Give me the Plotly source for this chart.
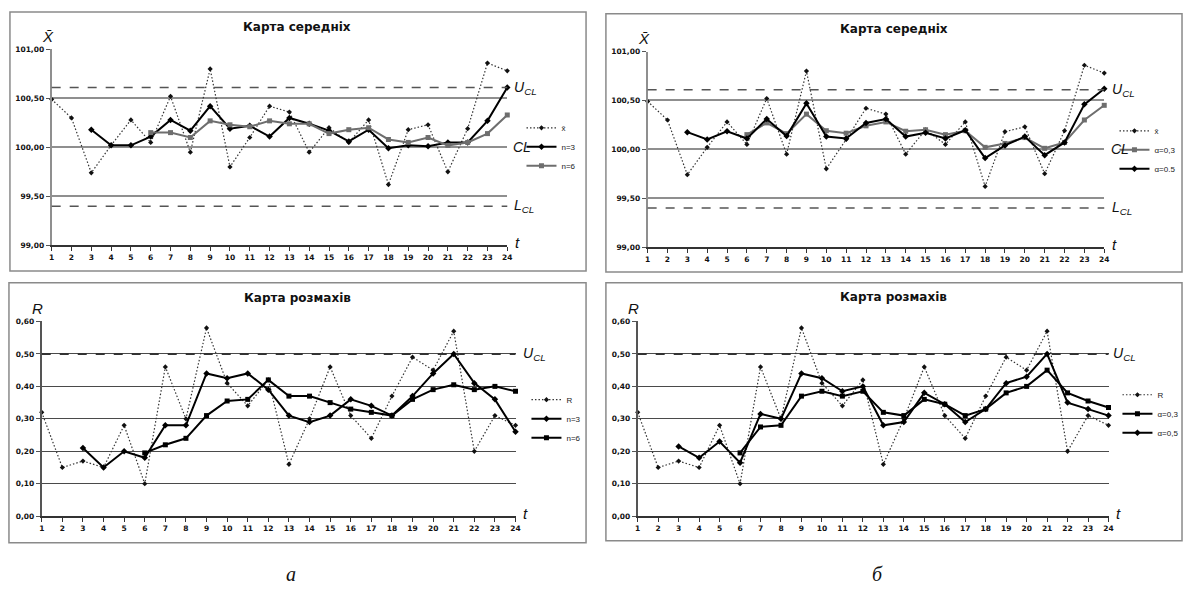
import plotly.graph_objects as go

W, H = 1189, 601

# ---------------- data ----------------
t = list(range(1, 25))
x_ticks = [str(i) for i in t]

xbar = [100.49, 100.30, 99.74, 100.02, 100.28, 100.05, 100.52, 99.95, 100.80, 99.80,
        100.10, 100.42, 100.36, 99.95, 100.20, 100.05, 100.28, 99.62, 100.18, 100.23,
        99.75, 100.19, 100.86, 100.78]
xbar_n3 = [None, None, 100.18, 100.02, 100.02, 100.11, 100.28, 100.17, 100.42, 100.19,
           100.22, 100.11, 100.30, 100.24, 100.17, 100.06, 100.18, 99.99, 100.02, 100.01,
           100.05, 100.05, 100.27, 100.61]
xbar_n6 = [None, None, None, None, None, 100.15, 100.15, 100.10, 100.27, 100.23,
           100.21, 100.27, 100.24, 100.24, 100.14, 100.18, 100.20, 100.08, 100.05, 100.10,
           100.02, 100.05, 100.14, 100.33]
xbar_a03 = [None, None, None, None, None, 100.15, 100.27, 100.16, 100.36, 100.19,
            100.165, 100.24, 100.28, 100.185, 100.20, 100.15, 100.19, 100.02, 100.06, 100.12,
            100.01, 100.07, 100.30, 100.45]
xbar_a05 = [None, None, 100.175, 100.10, 100.185, 100.11, 100.31, 100.135, 100.47, 100.13,
            100.11, 100.27, 100.31, 100.13, 100.17, 100.11, 100.195, 99.91, 100.04, 100.13,
            99.94, 100.07, 100.46, 100.62]

R = [0.32, 0.15, 0.17, 0.15, 0.28, 0.10, 0.46, 0.30, 0.58, 0.41,
     0.34, 0.42, 0.16, 0.30, 0.46, 0.31, 0.24, 0.37, 0.49, 0.45,
     0.57, 0.20, 0.31, 0.28]
R_n3 = [None, None, 0.21, 0.15, 0.20, 0.18, 0.28, 0.28, 0.44, 0.425,
        0.44, 0.39, 0.31, 0.29, 0.31, 0.36, 0.34, 0.31, 0.37, 0.44,
        0.50, 0.41, 0.36, 0.26]
R_n6 = [None, None, None, None, None, 0.195, 0.22, 0.24, 0.31, 0.355,
        0.36, 0.42, 0.37, 0.37, 0.35, 0.33, 0.32, 0.31, 0.36, 0.39,
        0.405, 0.39, 0.40, 0.385]
R_a03 = [None, None, None, None, None, 0.195, 0.275, 0.28, 0.37, 0.385,
         0.37, 0.385, 0.32, 0.31, 0.36, 0.345, 0.31, 0.33, 0.38, 0.40,
         0.45, 0.38, 0.355, 0.335]
R_a05 = [None, None, 0.215, 0.18, 0.23, 0.165, 0.315, 0.30, 0.44, 0.425,
         0.385, 0.40, 0.28, 0.29, 0.38, 0.345, 0.29, 0.33, 0.41, 0.43,
         0.50, 0.35, 0.33, 0.31]

UCL_X, CL_X, LCL_X = 100.61, 100.00, 99.40
UCL_R = 0.50

x_yticks = [99.0, 99.5, 100.0, 100.5, 101.0]
r_yticks = [0.0, 0.1, 0.2, 0.3, 0.4, 0.5, 0.6]

titles = ["Карта середніх", "Карта розмахів", "Карта середніх", "Карта розмахів"]


# ---------------- helpers ----------------
def px(p):
    return p / W


def py(p):
    return 1 - p / H


fig = go.Figure()

DOT = dict(color="#333", width=1.2, dash="1.5px,2px")
MK_DOT = dict(symbol="diamond", size=4, color="#111")


def add_dot(y, name, xa, ya, leg):
    fig.add_trace(go.Scatter(x=t, y=y, name=name, mode="lines+markers", line=DOT,
                             marker=MK_DOT, xaxis=xa, yaxis=ya, legend=leg,
                             cliponaxis=False, connectgaps=False))


def add_line(y, name, xa, ya, leg, color, symbol):
    fig.add_trace(go.Scatter(x=t, y=y, name=name, mode="lines+markers",
                             line=dict(color=color, width=2),
                             marker=dict(symbol=symbol, size=5, color=color),
                             xaxis=xa, yaxis=ya, legend=leg, cliponaxis=False))


GREY = "#6e6e6e"
# top-left
add_dot(xbar, "x\u0304", "x", "y", "legend")
add_line(xbar_n3, "n=3", "x", "y", "legend", "#000", "diamond")
add_line(xbar_n6, "n=6", "x", "y", "legend", GREY, "square")
# bottom-left
add_dot(R, "R", "x2", "y2", "legend2")
add_line(R_n3, "n=3", "x2", "y2", "legend2", "#000", "diamond")
add_line(R_n6, "n=6", "x2", "y2", "legend2", "#000", "square")
# top-right
add_dot(xbar, "x\u0304", "x3", "y3", "legend3")
add_line(xbar_a03, "\u03b1=0,3", "x3", "y3", "legend3", GREY, "square")
add_line(xbar_a05, "\u03b1=0.5", "x3", "y3", "legend3", "#000", "diamond")
# bottom-right
add_dot(R, "R", "x4", "y4", "legend4")
add_line(R_a03, "\u03b1=0,3", "x4", "y4", "legend4", "#000", "square")
add_line(R_a05, "\u03b1=0,5", "x4", "y4", "legend4", "#000", "diamond")

TICKFONT = dict(family="DejaVu Sans", size=7.5, color="#111", weight="bold")

panels = [
    ("xaxis", "yaxis", 49, 507.7, 46, 245, [99, 101], x_yticks, "#8f8f8f", (7, 8, 587, 271)),
    ("xaxis2", "yaxis2", 39, 516, 322.3, 520, [0, 0.6], r_yticks, "#4a4a4a", (6, 283, 587, 547)),
    ("xaxis3", "yaxis3", 649, 1108.7, 48.3, 246.7, [99, 101], x_yticks, "#8f8f8f", (607, 10, 1187, 272)),
    ("xaxis4", "yaxis4", 639, 1113, 322.3, 520, [0, 0.6], r_yticks, "#4a4a4a", (607, 283, 1187, 545)),
]

layout = dict(width=W, height=H, margin=dict(l=0, r=0, t=0, b=0),
              paper_bgcolor="white", plot_bgcolor="rgba(0,0,0,0)",
              separators=", ", showlegend=True, shapes=[], annotations=[])

for i, (xk, yk, x0, x1, yt, yb, yr, yt_vals, gcol, box) in enumerate(panels):
    n = "" if i == 0 else str(i + 1)
    layout[xk] = dict(domain=[px(x0), px(x1)], range=[1, 24], anchor="y" + n,
                      tickvals=t, ticktext=x_ticks, ticks="outside", ticklen=4,
                      tickcolor="#333", showline=True, linecolor="#333", linewidth=1.5,
                      showgrid=False, zeroline=False, tickfont=TICKFONT, fixedrange=True)
    layout[yk] = dict(domain=[py(yb), py(yt)], range=yr, anchor="x" + n,
                      tickvals=yt_vals, tickformat=".2f", ticks="outside", ticklen=4,
                      tickcolor="#555", showline=True,
                      linecolor="#8f8f8f" if i in (0, 2) else "#555", linewidth=2,
                      showgrid=True, gridcolor=gcol, gridwidth=1.6 if i in (0, 2) else 1.3,
                      zeroline=False, tickfont=TICKFONT, fixedrange=True)
    bx0, by0, bx1, by1 = box
    layout["shapes"].append(dict(type="rect", xref="paper", yref="paper",
                                 x0=px(bx0), x1=px(bx1), y0=py(by1), y1=py(by0),
                                 line=dict(color="#8a8a8a", width=1.5)))
    cx = 296 if i in (0, 1) else 897
    ty = [23, 298, 25, 297][i]
    layout["annotations"].append(dict(text="<b>" + titles[i] + "</b>", xref="paper", yref="paper",
                                      x=px(cx), y=py(ty), showarrow=False,
                                      font=dict(family="DejaVu Sans", size=12, color="#111"),
                                      xanchor="center", yanchor="middle"))
    layout["annotations"].append(dict(text="<i>t</i>", xref="paper", yref="paper",
                                      x=px(x1 + 6), y=py(yb - 3), showarrow=False,
                                      font=dict(family="Liberation Sans", size=15, color="#111"),
                                      xanchor="left", yanchor="middle"))
    ylab = "<i>X\u0304</i>" if i in (0, 2) else "<i>R</i>"
    layout["annotations"].append(dict(text=ylab, xref="paper", yref="paper",
                                      x=px(x0 - 4), y=py(yt - 13), showarrow=False,
                                      font=dict(family="Liberation Sans", size=15, color="#111"),
                                      xanchor="center", yanchor="middle"))

SUBF = dict(family="Liberation Sans", size=14, color="#111")


def dashed(xa, ya, yv, color, width):
    layout["shapes"].append(dict(type="line", xref=xa + " domain", yref=ya, x0=0, x1=1,
                                 y0=yv, y1=yv, line=dict(color=color, width=width, dash="dash")))


def label(xp, ya, yv, text):
    layout["annotations"].append(dict(text=text, xref="paper", yref=ya, x=px(xp), y=yv,
                                      showarrow=False, font=SUBF, xanchor="left",
                                      yanchor="middle"))


for (xa, ya, lx) in [("x", "y", 512), ("x3", "y3", 1114)]:
    dashed(xa, ya, UCL_X, "#555", 1.5)
    dashed(xa, ya, LCL_X, "#555", 1.5)
    label(lx, ya, UCL_X, "<i>U<sub>CL</sub></i>")
    label(lx - 1, ya, CL_X, "<i>CL</i>")
    label(lx, ya, LCL_X, "<i>L<sub>CL</sub></i>")

for (xa, ya, lx) in [("x2", "y2", 522), ("x4", "y4", 1116)]:
    dashed(xa, ya, UCL_R, "#333", 2)
    label(lx, ya, UCL_R, "<i>U<sub>CL</sub></i>")

for cx, txt in [(290, "а"), (880, "б")]:
    layout["annotations"].append(dict(text="<i>" + txt + "</i>", xref="paper", yref="paper",
                                      x=px(cx), y=py(579), showarrow=False,
                                      font=dict(family="Liberation Serif", size=20, color="#111"),
                                      xanchor="center", yanchor="middle"))

LEGFONT = dict(family="Liberation Sans", size=8, color="#222")


def legend(xp, ymid):
    return dict(x=px(xp), y=py(ymid), xanchor="left", yanchor="middle",
                bgcolor="rgba(0,0,0,0)", font=LEGFONT, itemwidth=30,
                tracegroupgap=0, itemclick=False, itemdoubleclick=False)


layout["legend"] = legend(522, 145)
layout["legend2"] = legend(527, 421)
layout["legend3"] = legend(1119, 148)
layout["legend4"] = legend(1122, 416)

fig.update_layout(**layout)
fig.write_html("out.html", config={"displayModeBar": False},
               post_script="document.body.style.margin='0';document.body.style.overflow='hidden';")
